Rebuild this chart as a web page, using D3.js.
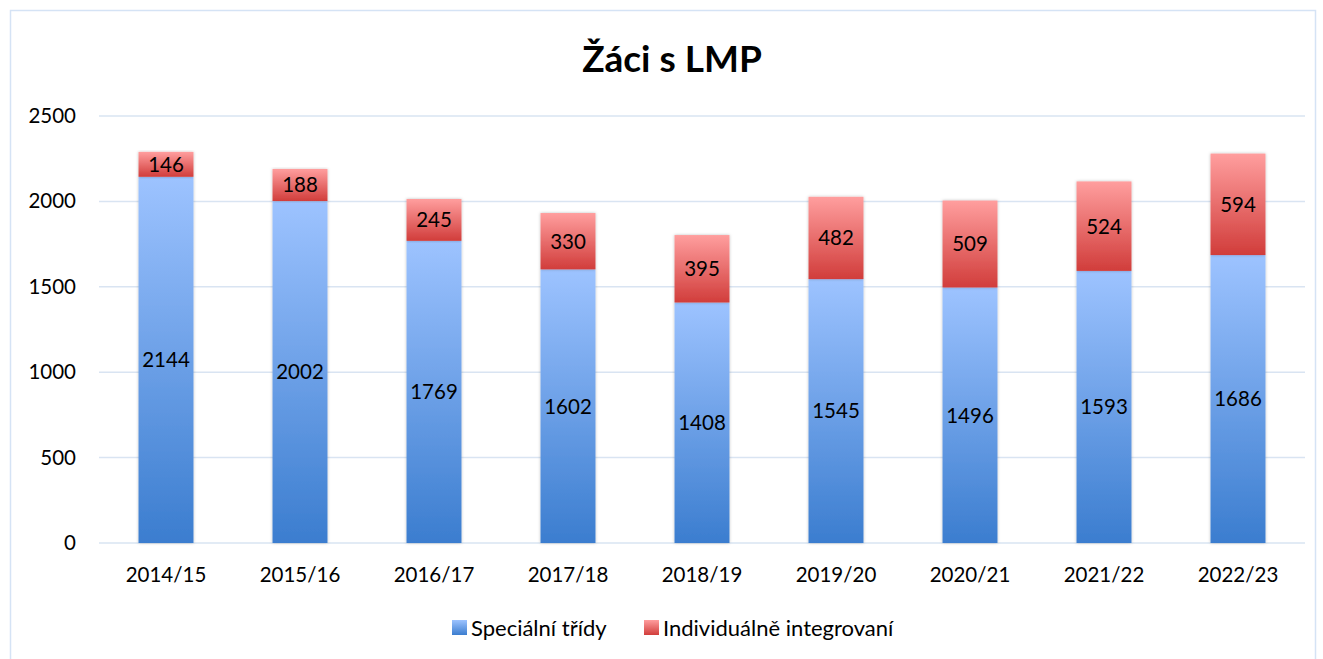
<!DOCTYPE html>
<html>
<head>
<meta charset="utf-8">
<script src="https://cdn.jsdelivr.net/npm/d3@7"></script>
<style>
  body { margin: 0; background: #fff; }
  text { font-family: Lato, "Open Sans", sans-serif; fill: #000; }
</style>
</head>
<body>
<svg id="chart" width="1323" height="659"></svg>
<script>
var years = ["2014/15","2015/16","2016/17","2017/18","2018/19","2019/20","2020/21","2021/22","2022/23"]
var specialni = [2144,2002,1769,1602,1408,1545,1496,1593,1686]
var individualne = [146,188,245,330,395,482,509,524,594]
var yTicks = [0,500,1000,1500,2000,2500]
var seriesNames = ["Speciální třídy","Individuálně integrovaní"]

var svg = d3.select("#chart")

// chart frame
svg.append("rect")
    .attr("x", 10.5).attr("y", 10.5)
    .attr("width", 1305).attr("height", 670)
    .attr("fill", "none")
    .attr("stroke", "#d5e3f5")
    .attr("stroke-width", 1.5)

var defs = svg.append("defs")
var blueGrad = defs.append("linearGradient").attr("id", "gBlue")
    .attr("x1", 0).attr("y1", 0).attr("x2", 0).attr("y2", 1)
blueGrad.append("stop").attr("offset", "0%").attr("stop-color", "#9dc3ff")
blueGrad.append("stop").attr("offset", "100%").attr("stop-color", "#3b7dcf")
var redGrad = defs.append("linearGradient").attr("id", "gRed")
    .attr("x1", 0).attr("y1", 0).attr("x2", 0).attr("y2", 1)
redGrad.append("stop").attr("offset", "0%").attr("stop-color", "#ff9e9e")
redGrad.append("stop").attr("offset", "100%").attr("stop-color", "#d13d3b")

var shadow = defs.append("filter").attr("id", "shadow")
    .attr("x", "-20%").attr("y", "-5%").attr("width", "140%").attr("height", "110%")
shadow.append("feDropShadow")
    .attr("dx", 0).attr("dy", 0).attr("stdDeviation", 1.6)
    .attr("flood-color", "#000").attr("flood-opacity", 0.25)

var plot = {left: 99, right: 1305, top: 116, bottom: 543}

var xScale = d3.scaleBand()
    .domain(years)
    .range([plot.left, plot.right])
    .paddingInner(0.59)
    .paddingOuter(0.295)

var yScale = d3.scaleLinear()
    .domain([0, 2500])
    .range([plot.bottom, plot.top])

// gridlines
svg.append("g").selectAll("line")
    .data(yTicks)
    .enter()
    .append("line")
      .attr("x1", plot.left).attr("x2", plot.right)
      .attr("y1", d => yScale(d)).attr("y2", d => yScale(d))
      .attr("stroke", "#d9e4f2")
      .attr("stroke-width", 1.5)

// y axis labels
var yAxis = d3.axisLeft(yScale).tickValues(yTicks).tickFormat(d3.format("d")).tickSize(0).tickPadding(23)
var yg = svg.append("g").attr("transform", "translate(" + plot.left + ",0)").call(yAxis)
yg.select(".domain").remove()
yg.selectAll("text").style("font-size", "20.5px").attr("font-family", null)

// x axis labels
var xAxis = d3.axisBottom(xScale).tickSize(0).tickPadding(24)
var xg = svg.append("g").attr("transform", "translate(0," + plot.bottom + ")").call(xAxis)
xg.select(".domain").remove()
xg.selectAll("text").style("font-size", "20.5px").attr("font-family", null)

var rows = years.map((y, i) => ({year: y, s: specialni[i], ind: individualne[i]}))
var stack = d3.stack().keys(["s", "ind"])(rows)
var fills = ["url(#gBlue)", "url(#gRed)"]

var bars = svg.append("g")
stack.forEach(function(layer, li) {
    bars.selectAll(".seg" + li)
      .data(layer)
      .enter()
      .append("rect")
        .attr("class", "seg" + li)
        .attr("x", d => xScale(d.data.year))
        .attr("width", xScale.bandwidth())
        .attr("y", d => yScale(d[1]))
        .attr("height", d => yScale(d[0]) - yScale(d[1]))
        .attr("fill", fills[li])
        .attr("filter", "url(#shadow)")
})

// data labels
stack.forEach(function(layer, li) {
    bars.selectAll(".lab" + li)
      .data(layer)
      .enter()
      .append("text")
        .attr("x", d => xScale(d.data.year) + xScale.bandwidth() / 2)
        .attr("y", d => (yScale(d[0]) + yScale(d[1])) / 2)
        .attr("dy", "0.36em")
        .attr("text-anchor", "middle")
        .style("font-size", "20.5px")
        .text(d => d[1] - d[0])
})

// title
svg.append("text")
    .attr("x", 672).attr("y", 72)
    .attr("text-anchor", "middle")
    .style("font-size", "37px")
    .style("font-weight", "bold")
    .text("Žáci s LMP")

// legend
var legendX = [452, 644]
var legend = svg.append("g")
seriesNames.forEach(function(name, i) {
    legend.append("rect")
        .attr("x", legendX[i]).attr("y", 620)
        .attr("width", 15).attr("height", 15)
        .attr("fill", fills[i])
    legend.append("text")
        .attr("x", legendX[i] + 19).attr("y", 628)
        .attr("dy", "0.36em")
        .style("font-size", "22px")
        .text(name)
})
</script>
</body>
</html>
